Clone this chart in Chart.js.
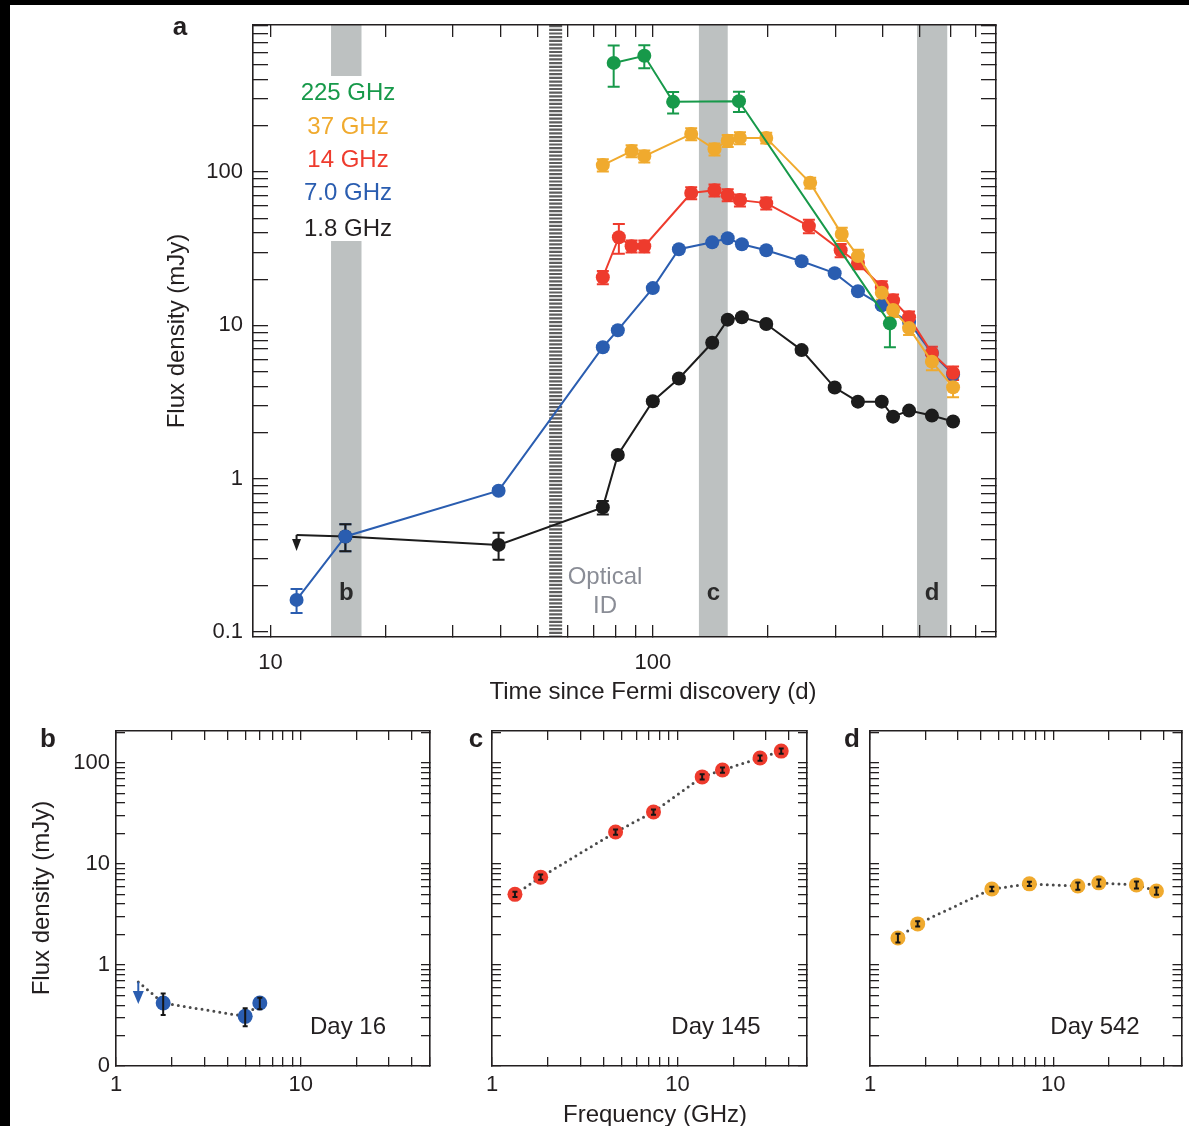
<!DOCTYPE html>
<html>
<head>
<meta charset="utf-8">
<script src="https://cdn.jsdelivr.net/npm/chart.js@4.4.1/dist/chart.umd.min.js"></script>
<style>
  body { margin: 0; background: #fff; }
  #fig { position: relative; width: 1189px; height: 1126px; overflow: hidden; background: #fff; }
  #fig canvas { position: absolute; }
  .edge { position: absolute; background: #000; z-index: 5; }
</style>
</head>
<body>
<div id="fig">
  <canvas id="panelA" width="1189" height="715" style="left:0;top:0"></canvas>
  <canvas id="panelB" width="440" height="411" style="left:0;top:715px"></canvas>
  <canvas id="panelC" width="380" height="411" style="left:440px;top:715px"></canvas>
  <canvas id="panelD" width="369" height="411" style="left:820px;top:715px"></canvas>
  <div class="edge" style="left:0;top:0;width:1189px;height:5px"></div>
  <div class="edge" style="left:0;top:0;width:10px;height:1126px"></div>
</div>
<script>
const FONT = '"Liberation Sans", Arial, Helvetica, sans-serif';
const INK = '#231f20';

const GREEN = '#17994a', ORANGE = '#f0aa2e', RED = '#ee3b2d', BLUE = '#2a5db0', BLACK = '#1c1c1c';

// ---- panel a: light curves (days since Fermi discovery, flux in mJy) ----
const day225 = [79, 95, 113, 168, 417];
const flux225 = [515, 573, 287, 290, 10.3];
const err225 = [0.3, 0.17, 0.16, 0.15, 0.3];

const day37 = [74, 88, 95, 126, 145, 157, 169, 198, 258, 312, 344, 397, 425, 468, 537, 610];
const flux37 = [111, 137, 127, 177, 141, 160, 167, 167, 85, 39.4, 28.3, 16.3, 12.6, 9.6, 5.8, 3.95];
const err37 = [0.09, 0.09, 0.09, 0.09, 0.09, 0.09, 0.09, 0.08, 0.08, 0.1, 0.1, 0.1, 0.1, 0.1, 0.12, 0.14];

const day14 = [74, 81.5, 88, 95, 126, 145, 157, 169, 198, 256, 310, 344, 397, 425, 468, 537, 610];
const flux14 = [20.6, 37.6, 32.8, 32.8, 73, 76, 70.8, 65.6, 62.7, 44.4, 30.9, 25.5, 17.8, 14.6, 11.3, 6.6, 4.9];
const err14 = [0.1, 0.22, 0.09, 0.09, 0.09, 0.09, 0.09, 0.09, 0.09, 0.1, 0.1, 0.09, 0.09, 0.09, 0.09, 0.1, 0.1];

const day7 = [11.7, 15.7, 39.5, 74, 81, 100, 117, 143, 157, 171, 198, 245, 299, 344, 397, 468, 537, 610];
const flux7 = [0.162, 0.42, 0.835, 7.2, 9.3, 17.5, 31.4, 34.8, 37, 33.8, 30.9, 26.2, 21.9, 16.7, 13.5, 10.5, 6.6, 4.8];
const err7 = [0.18, 0.2, 0.04, 0.03, 0.03, 0.03, 0.03, 0.03, 0.03, 0.03, 0.03, 0.03, 0.03, 0.03, 0.03, 0.03, 0.03, 0.03];

const day18 = [11.7, 15.7, 39.5, 74, 81, 100, 117, 143, 157, 171, 198, 245, 299, 344, 397, 425, 468, 537, 610];
const flux18 = [0.43, 0.42, 0.37, 0.65, 1.43, 3.2, 4.5, 7.7, 10.9, 11.3, 10.2, 6.9, 3.93, 3.18, 3.18, 2.54, 2.78, 2.58, 2.36];
const err18 = [0, 0.2, 0.2, 0.1, 0.04, 0.04, 0.04, 0.04, 0.04, 0.04, 0.04, 0.04, 0.04, 0.04, 0.04, 0.04, 0.04, 0.04, 0.04];
const limit18 = [0];   // index of the upper limit (arrow)

const legendNames = ['225 GHz', '37 GHz', '14 GHz', '7.0 GHz', '1.8 GHz'];
const legendColors = [GREEN, ORANGE, RED, BLUE, INK];

// shaded epochs b, c, d and the optical identification
const epochBands = [[14.4, 17.3], [132, 157], [491, 589]];
const epochNames = ['b', 'c', 'd'];
const opticalDay = 55.7;

// ---- spectra (frequency in GHz, flux in mJy) ----
const freqB = [1.32, 1.8, 5.0, 6.0];
const fluxB = [0.68, 0.42, 0.31, 0.42];
const errB = [0, 0.24, 0.2, 0.13];
const limitB = [0];

const freqC = [1.33, 1.83, 4.64, 7.43, 13.6, 17.5, 27.9, 36.3];
const fluxC = [5.0, 7.4, 20.7, 32.7, 72.7, 85, 112, 131];
const errC = [0.06, 0.06, 0.06, 0.06, 0.06, 0.06, 0.06, 0.06];

const freqD = [1.42, 1.82, 4.62, 7.4, 13.6, 17.7, 28.4, 36.5];
const fluxD = [1.85, 2.55, 5.65, 6.35, 6.05, 6.5, 6.2, 5.4];
const errD = [0.1, 0.06, 0.05, 0.05, 0.08, 0.08, 0.08, 0.08];

// tick labels
const dayLabels = {10: '10', 100: '100'};
const fluxLabels = {0.1: '0.1', 1: '1', 10: '10', 100: '100'};
const freqLabels = {1: '1', 10: '10'};
const specFluxLabels = {0.1: '0', 1: '1', 10: '10', 100: '100'};

function logTicks(lo, hi) {
  const out = [];
  for (let k = lo; k <= hi; k++) {
    for (let m = 1; m <= 9; m++) out.push(+(m * Math.pow(10, k)).toPrecision(6));
  }
  return out;
}

function logAxis(o) {
  return {
    type: 'logarithmic', axis: o.axis, position: o.position, min: o.min, max: o.max,
    afterBuildTicks: s => {
      s.ticks = o.ticks.filter(v => v >= o.min * 0.999 && v <= o.max * 1.001).map(v => ({value: v}));
    },
    afterFit: s => {
      if (o.axis === 'x') s.height = o.size; else s.width = o.size;
      // labels must not push the plot area around
      s.paddingTop = s.paddingBottom = s.paddingLeft = s.paddingRight = 0;
    },
    border: {display: true, color: INK, width: 1.6},
    grid: {drawOnChartArea: false, drawTicks: true, tickLength: -o.tick, color: INK, lineWidth: 1.3},
    ticks: {
      display: !!o.labels, autoSkip: false, maxRotation: 0, minRotation: 0,
      padding: o.pad || 0, color: INK, font: {family: FONT, size: 22},
      callback: v => (o.labels && o.labels[v] !== undefined) ? o.labels[v] : ''
    }
  };
}

function series(xs, ys, errs, color, extra) {
  return Object.assign({
    data: xs.map((x, i) => ({x: x, y: ys[i]})),
    errs: errs,
    borderColor: color, pointBackgroundColor: color, backgroundColor: color,
    pointBorderWidth: 0, pointRadius: 7, borderWidth: 2, tension: 0, fill: false,
    xAxisID: 'x', yAxisID: 'y'
  }, extra || {});
}

function drawErrors(chart, o) {
  const {ctx, scales: {x, y}} = chart;
  ctx.save();
  chart.data.datasets.forEach(ds => {
    ds.data.forEach((p, i) => {
      const px = x.getPixelForValue(p.x), py = y.getPixelForValue(p.y);
      if (ds.limits && ds.limits.includes(i)) {
        ctx.strokeStyle = ctx.fillStyle = ds.pointBackgroundColor;
        ctx.lineWidth = 2;
        ctx.beginPath();
        ctx.moveTo(px, py);
        ctx.lineTo(px, py + o.arrow - o.head + 1);
        ctx.stroke();
        ctx.beginPath();
        ctx.moveTo(px - o.headW / 2, py + o.arrow - o.head);
        ctx.lineTo(px + o.headW / 2, py + o.arrow - o.head);
        ctx.lineTo(px, py + o.arrow);
        ctx.closePath();
        ctx.fill();
        return;
      }
      const e = ds.errs ? ds.errs[i] : 0;
      if (!e) return;
      const y1 = y.getPixelForValue(p.y * (1 + e)), y2 = y.getPixelForValue(p.y * (1 - e));
      ctx.strokeStyle = o.color || ds.pointBackgroundColor;
      ctx.lineWidth = o.width;
      ctx.beginPath();
      ctx.moveTo(px, y1); ctx.lineTo(px, y2);
      ctx.moveTo(px - o.cap, y1); ctx.lineTo(px + o.cap, y1);
      ctx.moveTo(px - o.cap, y2); ctx.lineTo(px + o.cap, y2);
      ctx.stroke();
    });
  });
  ctx.restore();
}

const errorBars = {
  id: 'errorBars',
  beforeDatasetsDraw(chart, args, o) { if (!o.onTop) drawErrors(chart, o); },
  afterDatasetsDraw(chart, args, o) { if (o.onTop) drawErrors(chart, o); }
};

function text(ctx, s, x, y, opt) {
  ctx.save();
  ctx.font = (opt.weight || 'normal') + ' ' + (opt.size || 24) + 'px ' + FONT;
  ctx.fillStyle = opt.color || INK;
  ctx.textAlign = opt.align || 'center';
  ctx.textBaseline = 'middle';
  ctx.translate(x, y);
  if (opt.rotate) ctx.rotate(opt.rotate);
  ctx.fillText(s, 0, 0);
  ctx.restore();
}

const baseOptions = {
  responsive: false, animation: false, events: [],
  layout: {padding: 0},
  plugins: {legend: {display: false}, tooltip: {enabled: false}}
};

// ---------- panel a ----------
const decorA = {
  id: 'decorA',
  beforeDraw(chart) {
    const {ctx, chartArea: a, scales: {x, y}} = chart;
    ctx.save();
    ctx.fillStyle = '#bdc1c1';
    epochBands.forEach((b, i) => {
      const x0 = x.getPixelForValue(b[0]), x1 = x.getPixelForValue(b[1]);
      if (i === 0) {
        // band b is interrupted by the legend text
        const g0 = y.getPixelForValue(423), g1 = y.getPixelForValue(35.5);
        ctx.fillRect(x0, a.top, x1 - x0, g0 - a.top);
        ctx.fillRect(x0, g1, x1 - x0, a.bottom - g1);
      } else {
        ctx.fillRect(x0, a.top, x1 - x0, a.bottom - a.top);
      }
    });
    const ox = x.getPixelForValue(opticalDay);
    ctx.strokeStyle = '#5e5e5e';
    ctx.lineWidth = 13;
    ctx.setLineDash([2.2, 1.5]);
    ctx.beginPath();
    ctx.moveTo(ox, a.top);
    ctx.lineTo(ox, a.bottom);
    ctx.stroke();
    ctx.restore();
  },
  afterDraw(chart) {
    const {ctx, scales: {x}} = chart;
    text(ctx, 'a', 180, 28, {weight: 'bold', size: 26});
    text(ctx, 'Flux density (mJy)', 177, 331, {rotate: -Math.PI / 2});
    text(ctx, 'Time since Fermi discovery (d)', 653, 692, {});
    legendNames.forEach((n, i) => {
      text(ctx, n, 348, [93, 127, 160, 193, 229][i], {color: legendColors[i]});
    });
    epochBands.forEach((b, i) => {
      const cx = x.getPixelForValue(Math.sqrt(b[0] * b[1]));
      text(ctx, epochNames[i], cx, 593, {weight: 'bold', size: 24, color: '#2a2a2a'});
    });
    text(ctx, 'Optical', 605, 577, {color: '#8a8d96'});
    text(ctx, 'ID', 605, 606, {color: '#8a8d96'});
  }
};

new Chart(document.getElementById('panelA'), {
  type: 'line',
  data: {
    datasets: [
      series(day225, flux225, err225, GREEN),
      series(day37, flux37, err37, ORANGE),
      series(day14, flux14, err14, RED),
      series(day7, flux7, err7, BLUE),
      series(day18, flux18, err18, BLACK, {
        limits: limit18,
        pointRadius: day18.map((d, i) => limit18.includes(i) ? 0 : 7)
      })
    ]
  },
  options: Object.assign({}, baseOptions, {
    plugins: Object.assign({}, baseOptions.plugins, {
      errorBars: {onTop: false, width: 2, cap: 6, arrow: 16, head: 12, headW: 9}
    }),
    scales: {
      x: logAxis({axis: 'x', position: 'bottom', min: 9, max: 790, size: 78, tick: 12, pad: 25,
        ticks: logTicks(1, 2), labels: dayLabels}),
      xTop: logAxis({axis: 'x', position: 'top', min: 9, max: 790, size: 25, tick: 12, ticks: logTicks(1, 2)}),
      y: logAxis({axis: 'y', position: 'left', min: 0.0928, max: 910, size: 253, tick: 15, pad: 25,
        ticks: logTicks(-1, 2), labels: fluxLabels}),
      yRight: logAxis({axis: 'y', position: 'right', min: 0.0928, max: 910, size: 193, tick: 15, ticks: logTicks(-1, 2)})
    }
  }),
  plugins: [decorA, errorBars]
});

// ---------- panels b, c, d ----------
function spectrum(id, xs, ys, errs, color, leftSize, rightSize, showY, limits, decor) {
  const ds = series(xs, ys, errs, '#4a4a4a', {
    pointBackgroundColor: color, pointRadius: xs.map((v, i) => (limits && limits.includes(i)) ? 0 : 7.5),
    borderWidth: 3, borderDash: [0, 6], borderCapStyle: 'round', limits: limits
  });
  new Chart(document.getElementById(id), {
    type: 'line',
    data: {datasets: [ds]},
    options: Object.assign({}, baseOptions, {
      plugins: Object.assign({}, baseOptions.plugins, {
        errorBars: {onTop: true, color: '#151515', width: 2, cap: 2.5, arrow: 22, head: 13, headW: 11}
      }),
      scales: {
        x: logAxis({axis: 'x', position: 'bottom', min: 1, max: 50, size: 60, tick: 9, pad: 15,
          ticks: logTicks(0, 1), labels: freqLabels}),
        xTop: logAxis({axis: 'x', position: 'top', min: 1, max: 50, size: 16, tick: 9, ticks: logTicks(0, 1)}),
        y: logAxis({axis: 'y', position: 'left', min: 0.1, max: 207, size: leftSize, tick: 9, pad: 15,
          ticks: logTicks(-1, 2), labels: showY ? specFluxLabels : null}),
        yRight: logAxis({axis: 'y', position: 'right', min: 0.1, max: 207, size: rightSize, tick: 9, ticks: logTicks(-1, 2)})
      }
    }),
    plugins: [errorBars, decor]
  });
}

spectrum('panelB', freqB, fluxB, errB, BLUE, 116, 10, true, limitB, {
  id: 'decorB',
  afterDraw(chart) {
    const ctx = chart.ctx;
    text(ctx, 'b', 48, 25, {weight: 'bold', size: 26});
    text(ctx, 'Flux density (mJy)', 42, 183, {rotate: -Math.PI / 2});
    text(ctx, 'Day 16', 348, 312, {});
  }
});

spectrum('panelC', freqC, fluxC, errC, RED, 52, 13, false, null, {
  id: 'decorC',
  afterDraw(chart) {
    const ctx = chart.ctx;
    text(ctx, 'c', 36, 25, {weight: 'bold', size: 26});
    text(ctx, 'Day 145', 276, 312, {});
    text(ctx, 'Frequency (GHz)', 215, 400, {});
  }
});

spectrum('panelD', freqD, fluxD, errD, ORANGE, 50, 4, false, null, {
  id: 'decorD',
  afterDraw(chart) {
    const ctx = chart.ctx;
    text(ctx, 'd', 32, 25, {weight: 'bold', size: 26});
    text(ctx, 'Day 542', 275, 312, {});
  }
});
</script>
</body>
</html>
